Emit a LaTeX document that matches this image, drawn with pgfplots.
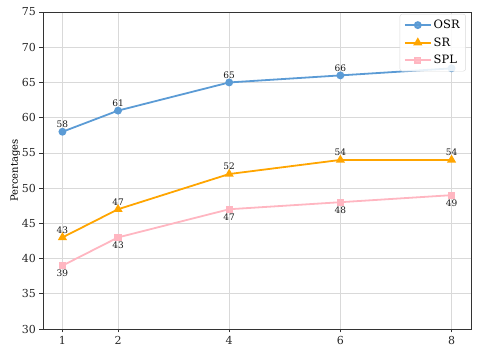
\documentclass[border=0pt]{standalone}
\usepackage{pgfplots}
\pgfplotsset{compat=1.18}
\usepackage{fontspec}
\setmainfont{DejaVu Serif}
\definecolor{osr}{HTML}{5B9BD5}
\definecolor{sr}{HTML}{FFA500}
\definecolor{spl}{HTML}{FFB6C1}
\begin{document}
\begin{tikzpicture}
\path[use as bounding box] (-43pt,-26pt) rectangle (435pt,329pt);
\begin{axis}[
  at={(0pt,0pt)}, anchor=south west,
  scale only axis, width=428pt, height=317pt,
  xmin=0.65, xmax=8.35, ymin=30, ymax=75,
  xtick={1,2,4,6,8}, ytick={30,35,...,75},
  /pgf/number format/assume math mode=true,
  tick label style={font=\fontsize{11}{13}\selectfont, text=black!85},
  ylabel={Percentages}, ylabel style={font=\fontsize{10}{12}\selectfont},
  ylabel shift=-5pt,
  grid=major, grid style={black!15, line width=0.6pt},
  axis line style={black!80, line width=0.8pt},
  tick style={black!80, line width=0.7pt},
  tick align=outside, xtick pos=bottom, ytick pos=left,
  major tick length=3.5pt,
  legend style={font=\fontsize{11.5}{13}\selectfont, draw=black!15, rounded corners=2.5pt,
    fill=white, fill opacity=0.85, text opacity=1, at={(0.988,0.994)}, anchor=north east,
    row sep=3.5pt, inner xsep=4pt, inner ysep=4pt},
  legend cell align=left,
  legend image code/.code={
    \draw[line width=1.8pt, mark repeat=2,mark phase=2] plot coordinates {(0pt,0pt) (13pt,0pt) (26pt,0pt)};},
  every node near coord/.append style={font=\fontsize{9}{10}\selectfont, text=black!90},
  every axis plot/.append style={line width=1.8pt},
]
\addplot[color=osr, mark=*, mark size=3pt] coordinates {(1,58) (2,61) (4,65) (6,66) (8,67)};
\addlegendentry{OSR}
\addplot[color=sr, mark=triangle*, mark size=3.5pt, nodes near coords, nodes near coords align={above}] coordinates {(1,43) (2,47) (4,52) (6,54) (8,54)};
\addlegendentry{SR}
\addplot[color=spl, mark=square*, mark size=2.7pt, nodes near coords, nodes near coords align={below}] coordinates {(1,39) (2,43) (4,47) (6,48) (8,49)};
\addlegendentry{SPL}
\addplot[draw=none, mark=none, forget plot, nodes near coords, nodes near coords align={above}] coordinates {(1,58) (2,61) (4,65) (6,66)};
\end{axis}
\end{tikzpicture}
\end{document}
